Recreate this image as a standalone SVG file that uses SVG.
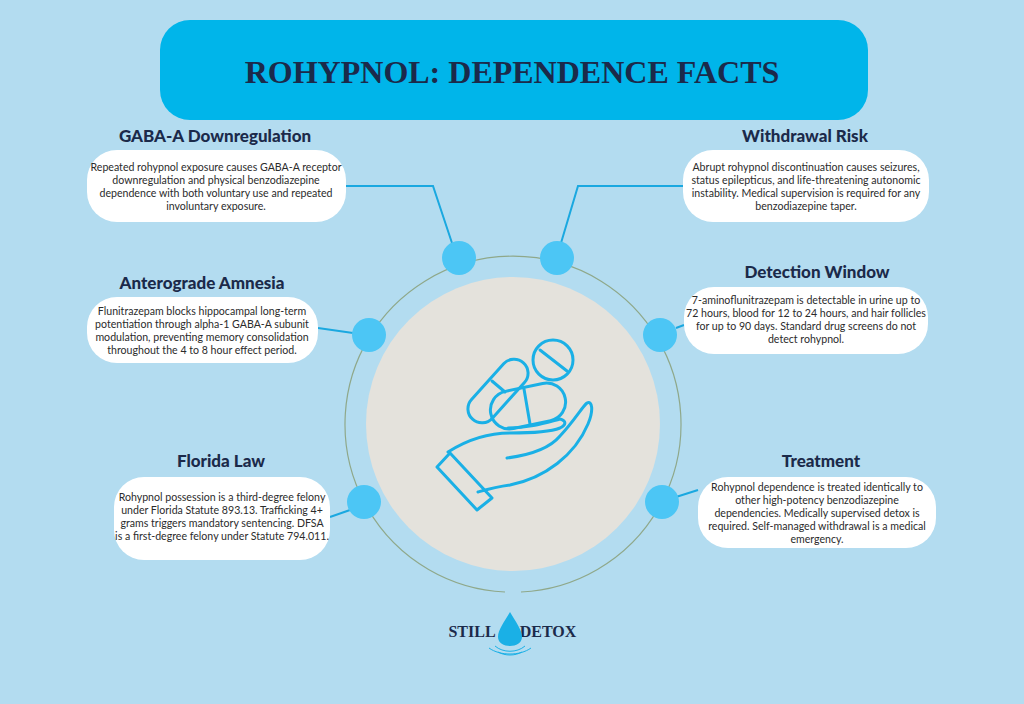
<svg xmlns="http://www.w3.org/2000/svg" width="1024" height="704" viewBox="0 0 1024 704">
<style>
.h{font-family:"Lato","Liberation Sans",sans-serif;font-weight:900;font-size:17px;fill:#1b2a4a;text-anchor:middle}
.t{font-family:"Lato","Liberation Sans",sans-serif;font-size:10.6px;fill:#2b2b2b;text-anchor:middle}
.box{fill:#fff}
.dot{fill:#4cc6f5}
.c{stroke:#1aa8e0;stroke-width:2;fill:none}
.ic{stroke:#1ab0e6;stroke-width:3;fill:none;stroke-linejoin:round;stroke-linecap:round}
</style>
<rect width="1024" height="704" fill="#b3dcf0"/>
<g id="title"><rect x="160" y="20" width="708" height="100" rx="30" fill="#00b5ea"/>
<text x="512" y="83" text-anchor="middle" font-family="Liberation Serif,serif" font-weight="bold" font-size="32" fill="#1b2a4a">ROHYPNOL: DEPENDENCE FACTS</text></g>
<g id="connectors">
<path class="c" d="M346 186H433L452 243"/>
<path class="c" d="M561 243L578 186H683"/>
<path class="c" d="M318 328L353 333"/>
<path class="c" d="M676 328L684 325"/>
<path class="c" d="M330 517L350 510"/>
<path class="c" d="M676 497L698 490"/>
</g>
<g id="center">
<path d="M505 592A168 168 0 1 1 521 592" fill="none" stroke="#8fa88a" stroke-width="1.2"/>
<circle cx="513" cy="424" r="147" fill="#e4e2dc"/>
<g class="ic">
<rect x="-14" y="-38" width="28" height="76" rx="14" transform="translate(498 391) rotate(42)"/>
<line x1="492" y1="381" x2="505" y2="392"/>
<circle cx="553" cy="360" r="20"/><line x1="540" y1="350" x2="567" y2="371"/>
<rect x="-38" y="-19" width="76" height="38" rx="19" transform="translate(528 406) rotate(-12)"/>
<line x1="524" y1="389" x2="530" y2="424"/>
<path d="M448 452C470 438 490 433 510 433C530 433 550 432 560 428C566 425 567 421 560 419C545 423 530 428 508 428"/>
<path d="M507 458C530 455 550 448 560 436C575 420 582 407 587 403C592 400 594 410 588 424C575 455 545 478 510 485C495 487 485 490 478 492"/>
<path d="M437 467L450 453L492 498L477 510Z"/>
</g></g>
<g id="dots">
<circle class="dot" cx="459" cy="258" r="17"/><circle class="dot" cx="557" cy="258" r="17"/>
<circle class="dot" cx="369" cy="335" r="17"/><circle class="dot" cx="660" cy="335" r="17"/>
<circle class="dot" cx="364" cy="502" r="17"/><circle class="dot" cx="662" cy="502" r="17"/>
</g>
<g id="gaba"><text class="h" x="215" y="142">GABA-A Downregulation</text>
<rect class="box" x="87" y="150" width="259" height="72" rx="30"/>
<text class="t" x="216" y="171">Repeated rohypnol exposure causes GABA-A receptor</text>
<text class="t" x="216" y="184">downregulation and physical benzodiazepine</text>
<text class="t" x="216" y="197">dependence with both voluntary use and repeated</text>
<text class="t" x="216" y="210">involuntary exposure.</text></g>
<g id="withdrawal"><text class="h" x="805" y="142">Withdrawal Risk</text>
<rect class="box" x="683" y="150" width="246" height="72" rx="30"/>
<text class="t" x="806" y="171">Abrupt rohypnol discontinuation causes seizures,</text>
<text class="t" x="806" y="184">status epilepticus, and life-threatening autonomic</text>
<text class="t" x="806" y="197">instability. Medical supervision is required for any</text>
<text class="t" x="806" y="210">benzodiazepine taper.</text></g>
<g id="amnesia"><text class="h" x="202" y="289">Anterograde Amnesia</text>
<rect class="box" x="87" y="297" width="231" height="66" rx="30"/>
<text class="t" x="202" y="315">Flunitrazepam blocks hippocampal long-term</text>
<text class="t" x="202" y="328">potentiation through alpha-1 GABA-A subunit</text>
<text class="t" x="202" y="341">modulation, preventing memory consolidation</text>
<text class="t" x="202" y="354">throughout the 4 to 8 hour effect period.</text></g>
<g id="detection"><text class="h" x="817" y="278">Detection Window</text>
<rect class="box" x="684" y="287" width="244" height="67" rx="30"/>
<text class="t" x="806" y="304">7-aminoflunitrazepam is detectable in urine up to</text>
<text class="t" x="806" y="317">72 hours, blood for 12 to 24 hours, and hair follicles</text>
<text class="t" x="806" y="330">for up to 90 days. Standard drug screens do not</text>
<text class="t" x="806" y="343">detect rohypnol.</text></g>
<g id="florida"><text class="h" x="221" y="467">Florida Law</text>
<rect class="box" x="114" y="477" width="216" height="83" rx="30"/>
<text class="t" x="222" y="501">Rohypnol possession is a third-degree felony</text>
<text class="t" x="222" y="514">under Florida Statute 893.13. Trafficking 4+</text>
<text class="t" x="222" y="527">grams triggers mandatory sentencing. DFSA</text>
<text class="t" x="222" y="540">is a first-degree felony under Statute 794.011.</text></g>
<g id="treatment"><text class="h" x="821" y="467">Treatment</text>
<rect class="box" x="698" y="477" width="238" height="71" rx="30"/>
<text class="t" x="817" y="491">Rohypnol dependence is treated identically to</text>
<text class="t" x="817" y="504">other high-potency benzodiazepine</text>
<text class="t" x="817" y="517">dependencies. Medically supervised detox is</text>
<text class="t" x="817" y="530">required. Self-managed withdrawal is a medical</text>
<text class="t" x="817" y="543">emergency.</text></g>
<g id="logo">
<text x="472" y="637" text-anchor="middle" font-family="Liberation Serif,serif" font-weight="bold" font-size="16" fill="#1b2a4a">STILL</text>
<text x="548" y="637" text-anchor="middle" font-family="Liberation Serif,serif" font-weight="bold" font-size="16" fill="#1b2a4a">DETOX</text>
<path d="M510 612C504 622 498 630 498 637C498 643 504 646 510 646C516 646 522 643 522 637C522 630 516 622 510 612Z" fill="#1ab0e6"/>
<path d="M495 646C503 653 517 653 525 646M489 648C500 656 520 656 531 648M498 652C505 656 515 656 522 652" stroke="#1ab0e6" fill="none"/>
</g>
</svg>
